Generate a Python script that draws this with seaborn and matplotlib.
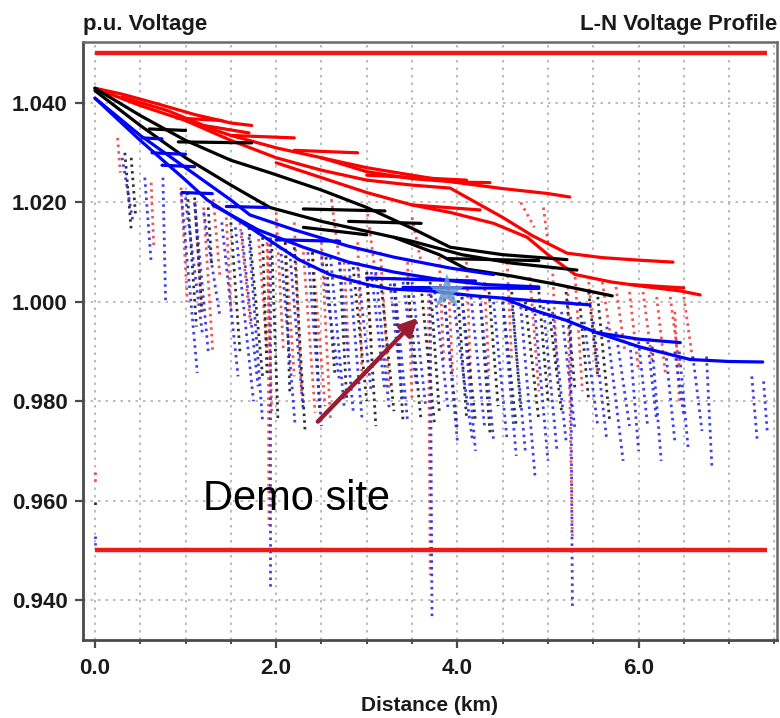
import numpy as np
import pandas as pd
import matplotlib
matplotlib.use('Agg')
import matplotlib.pyplot as plt
from matplotlib.ticker import MultipleLocator, FixedLocator
import seaborn as sns

sns.set_theme(style='white')
plt.rcParams['font.family'] = ['Liberation Sans', 'DejaVu Sans']

# ---------------- data ----------------
limit_km = [0.0, 7.42]
upper_limit = 1.050
lower_limit = 0.950

x_major_ticks = [0.0, 2.0, 4.0, 6.0]
x_tick_labels = ['0.0', '2.0', '4.0', '6.0']
y_ticks = [0.940, 0.960, 0.980, 1.000, 1.020, 1.040]
y_tick_labels = ['0.940', '0.960', '0.980', '1.000', '1.020', '1.040']

# solid (primary) branches: (km list, p.u. list)
red_branches = [
    ([0.0, 0.3, 0.7, 1.1, 1.5, 1.73], [1.043, 1.0418, 1.0398, 1.0377, 1.036, 1.0355]),
    ([0.3, 0.8, 1.2, 1.7], [1.0412, 1.0385, 1.0355, 1.034]),
    ([0.0, 0.5, 1.0, 1.5, 2.0, 2.5, 3.0, 3.5, 4.0, 4.5, 5.0, 5.24],
     [1.043, 1.0395, 1.0365, 1.0335, 1.031, 1.029, 1.027, 1.0255, 1.024, 1.0228, 1.0218, 1.0211]),
    ([2.5, 3.0, 3.5, 4.0, 4.36], [1.029, 1.0262, 1.0248, 1.0241, 1.024]),
    ([1.0, 1.5, 2.0, 2.5, 3.0, 3.5, 3.92, 4.5, 4.83, 5.21, 5.6, 6.0, 6.38],
     [1.0365, 1.0325, 1.029, 1.0265, 1.0245, 1.0235, 1.0229, 1.017, 1.0133, 1.0098, 1.0089, 1.0084, 1.008]),
    ([2.0, 2.5, 3.0, 3.5, 3.92, 4.4, 4.77, 5.0, 5.3, 5.7, 6.1, 6.46, 6.68],
     [1.028, 1.025, 1.022, 1.0195, 1.018, 1.0158, 1.013, 1.0095, 1.0055, 1.004, 1.003, 1.0022, 1.0014]),
    ([0.9, 1.4], [1.037, 1.0365]),
    ([1.5, 2.2], [1.0335, 1.033]),
    ([2.2, 2.9], [1.0305, 1.030]),
    ([3.0, 4.1], [1.0255, 1.0245]),
    ([3.5, 4.25], [1.0195, 1.0185]),
    ([5.9, 6.5], [1.0035, 1.0028]),
]
black_branches = [
    ([0.0, 0.5, 1.0, 1.5, 1.93, 2.5, 3.0, 3.5, 3.92, 4.5, 5.21],
     [1.043, 1.0375, 1.0325, 1.0285, 1.026, 1.0225, 1.019, 1.0148, 1.011, 1.0095, 1.0085]),
    ([0.0, 0.5, 1.0, 1.5, 1.93, 2.5, 3.0, 3.5, 4.05, 4.6, 5.32],
     [1.0425, 1.0355, 1.029, 1.0235, 1.019, 1.0162, 1.0142, 1.0122, 1.0095, 1.0078, 1.0064]),
    ([3.3, 3.8, 4.1, 4.6, 5.1, 5.71], [1.013, 1.0095, 1.0066, 1.0052, 1.0035, 1.0012]),
    ([0.92, 1.73], [1.0322, 1.032]),
    ([0.6, 1.0], [1.0348, 1.0345]),
    ([2.3, 3.2], [1.0187, 1.0183]),
    ([2.3, 3.0], [1.015, 1.0135]),
    ([2.8, 3.6], [1.0162, 1.0158]),
    ([3.9, 4.9], [1.0087, 1.0083]),
]
blue_branches = [
    ([0.0, 0.5, 1.0, 1.24, 1.75, 2.25, 2.59, 3.0, 3.26, 3.7, 4.2, 4.8, 5.46],
     [1.041, 1.0325, 1.0245, 1.0205, 1.0145, 1.0085, 1.0055, 1.0035, 1.0026, 1.0022, 1.0012, 1.0003, 0.9994]),
    ([0.0, 0.5, 1.0, 1.5, 1.71, 2.2, 2.8, 3.3, 3.92, 4.4],
     [1.041, 1.0335, 1.027, 1.0205, 1.0175, 1.0145, 1.0112, 1.009, 1.0068, 1.0055]),
    ([1.3, 1.8, 2.3, 2.8, 3.3, 3.8, 4.3, 4.9],
     [1.0195, 1.0145, 1.011, 1.008, 1.006, 1.0045, 1.0035, 1.003]),
    ([4.5, 4.83, 5.2, 5.54, 6.0, 6.46], [1.0008, 0.9984, 0.9963, 0.9938, 0.9925, 0.9918]),
    ([5.54, 6.0, 6.57, 7.0, 7.37], [0.9938, 0.991, 0.9884, 0.988, 0.9879]),
    ([0.52, 0.74], [1.033, 1.0328]),
    ([0.63, 1.0], [1.030, 1.0297]),
    ([0.74, 1.1], [1.0275, 1.0272]),
    ([0.96, 1.29], [1.022, 1.0218]),
    ([1.45, 1.9], [1.0192, 1.019]),
    ([2.0, 2.7], [1.0125, 1.0122]),
    ([3.0, 4.2], [1.0048, 1.0042]),
    ([3.4, 4.9], [1.0029, 1.0027]),
]

# dotted (secondary) laterals: top point and bottom point
red_lat_km_top = [0.25, 0.62, 0.00, 0.95, 1.10, 1.30, 1.60, 1.80, 1.90, 1.91, 2.10, 2.30, 2.40, 2.60, 2.75,
                  3.00, 3.00, 3.30, 3.50, 3.68, 3.90, 4.30, 4.70, 4.80, 4.95, 5.22, 5.45, 5.75, 5.90,
                  6.05, 6.20, 6.35, 6.50,
                  1.20, 1.45, 2.00, 2.20, 2.50, 2.90, 3.15, 3.45, 3.80, 4.10, 4.55, 5.05, 5.30, 5.60,
                  6.40]
red_lat_pu_top = [1.033, 1.024, 0.9658, 1.023, 1.020, 1.022, 1.016, 1.014, 1.012, 1.013, 1.012, 1.010, 1.010,
                  1.022, 1.008, 1.019, 1.006, 1.005, 1.017, 1.003, 1.004, 1.004, 1.020, 1.005, 1.019, 1.003,
                  1.004, 1.003, 1.002, 1.002, 1.001, 1.001, 1.001,
                  1.019, 1.017, 1.018, 1.016, 1.012, 1.012, 1.010, 1.008, 1.009, 1.008, 1.008, 1.007,
                  1.005, 1.004, 0.998]
red_lat_km_bot = [0.28, 0.65, 0.00, 1.02, 1.18, 1.38, 1.72, 1.90, 1.95, 1.92, 2.20, 2.43, 2.54, 2.70, 2.80,
                  3.10, 3.05, 3.35, 3.60, 3.70, 3.95, 4.35, 4.85, 4.90, 5.00, 5.27, 5.55, 5.85, 6.00,
                  6.15, 6.30, 6.45, 6.60,
                  1.30, 1.50, 2.08, 2.28, 2.60, 2.95, 3.25, 3.50, 3.85, 4.15, 4.60, 5.10, 5.38, 5.70,
                  6.45]
red_lat_pu_bot = [1.026, 1.011, 0.9635, 1.000, 0.998, 1.005, 0.995, 0.990, 0.978, 0.955, 0.985, 0.9777, 0.979,
                  1.008, 0.990, 1.005, 0.992, 0.990, 1.008, 0.945, 0.985, 0.985, 1.015, 0.982, 1.012, 0.952,
                  0.985, 0.990, 0.986, 0.988, 0.985, 0.987, 0.988,
                  0.990, 0.998, 0.990, 0.982, 0.976, 0.984, 0.982, 0.980, 0.988, 0.984, 0.988, 0.986,
                  0.982, 0.992, 0.980]

black_lat_km_top = [0.33, 0.40, 0.00, 1.02, 1.25, 1.70, 1.95, 2.20, 2.55, 2.85, 3.15, 3.45, 3.60, 3.85,
                    4.05, 4.25, 4.50, 4.75, 5.00, 5.35, 5.55,
                    1.10, 1.50, 1.85, 2.10, 2.40, 2.70, 3.00, 3.30, 3.70, 4.00, 4.35, 4.60, 4.90, 5.20,
                    5.45]
black_lat_pu_top = [1.030, 1.029, 0.9598, 1.022, 1.019, 1.015, 1.012, 1.011, 1.009, 1.007, 1.005, 1.004,
                    1.003, 1.002, 1.001, 1.001, 1.000, 1.000, 1.000, 1.000, 1.001,
                    1.021, 1.016, 1.013, 1.012, 1.010, 1.008, 1.006, 1.005, 1.004, 1.003, 1.002, 1.002,
                    1.002, 1.002, 1.002]
black_lat_km_bot = [0.40, 0.45, 0.00, 1.12, 1.29, 1.85, 2.02, 2.32, 2.65, 3.00, 3.30, 3.60, 3.75, 4.00,
                    4.20, 4.36, 4.65, 4.90, 5.15, 5.45, 5.68,
                    1.18, 1.60, 1.90, 2.15, 2.48, 2.78, 3.10, 3.40, 3.80, 4.10, 4.45, 4.70, 5.00, 5.30,
                    5.55]
black_lat_pu_bot = [1.0145, 1.017, 0.9585, 0.995, 1.007, 0.985, 0.976, 0.9737, 0.985, 0.980, 0.978, 0.976,
                    0.975, 0.974, 0.976, 0.9737, 0.975, 0.976, 0.978, 0.980, 0.9763,
                    0.998, 0.990, 0.985, 0.982, 0.978, 0.980, 0.975, 0.976, 0.978, 0.977, 0.979, 0.978,
                    0.980, 0.982, 0.985]

blue_lat_km_top = [0.30, 0.55, 0.75, 0.00, 0.95, 1.00, 1.20, 1.55, 1.62, 1.93, 2.05, 2.50, 2.70, 2.90, 3.05,
                   3.25, 3.40, 3.70, 3.75, 3.95, 4.15, 4.40, 4.60, 4.70, 4.85, 5.05, 5.25, 5.40, 5.65,
                   5.90, 6.00, 6.15, 6.30, 6.45, 6.60, 6.75, 7.25, 7.38,
                   1.10, 1.40, 1.70, 2.15, 2.35, 2.60, 2.80, 3.10, 3.30, 3.50, 3.85, 4.05, 4.25, 4.50,
                   4.95, 5.15, 5.50, 5.75, 6.10, 6.40]
blue_lat_pu_top = [1.029, 1.025, 1.025, 0.9528, 1.022, 1.021, 1.018, 1.015, 1.014, 1.013, 1.011, 1.009, 1.008,
                   1.007, 1.006, 1.005, 1.004, 1.003, 1.002, 1.001, 1.001, 1.000, 1.000, 0.999, 0.999,
                   0.998, 0.997, 0.996, 0.995, 0.993, 0.992, 0.991, 0.990, 0.990, 0.989, 0.989, 0.985, 0.984,
                   1.020, 1.016, 1.013, 1.010, 1.010, 1.009, 1.008, 1.006, 1.005, 1.004, 1.002, 1.001,
                   1.001, 1.000, 0.999, 0.998, 0.996, 0.994, 0.992, 0.990]
blue_lat_km_bot = [0.42, 0.62, 0.78, 0.00, 1.13, 1.19, 1.38, 1.75, 1.80, 1.93, 2.21, 2.70, 2.85, 3.05, 3.20,
                   3.40, 3.55, 3.72, 3.90, 4.17, 4.30, 4.55, 4.75, 4.86, 5.00, 5.20, 5.27, 5.55, 5.83,
                   6.00, 6.10, 6.25, 6.40, 6.55, 6.70, 6.81, 7.31, 7.42,
                   1.25, 1.58, 1.85, 2.30, 2.50, 2.75, 2.95, 3.25, 3.45, 3.65, 4.00, 4.20, 4.40, 4.65,
                   5.10, 5.30, 5.65, 5.90, 6.20, 6.50]
blue_lat_pu_bot = [1.016, 1.008, 1.000, 0.951, 0.9857, 0.993, 0.997, 0.980, 0.983, 0.942, 0.975, 0.984, 0.978,
                   0.9817, 0.982, 0.980, 0.983, 0.936, 0.978, 0.9717, 0.975, 0.972, 0.970, 0.9643, 0.968,
                   0.972, 0.938, 0.975, 0.968, 0.970, 0.975, 0.968, 0.972, 0.970, 0.974, 0.9666, 0.972, 0.974,
                   0.990, 0.985, 0.976, 0.978, 0.975, 0.979, 0.976, 0.978, 0.976, 0.979, 0.972, 0.970,
                   0.972, 0.969, 0.970, 0.974, 0.972, 0.975, 0.976, 0.977]

demo_site_km, demo_site_pu = 3.885, 1.002
arrow_tail = (2.46, 0.9759)
arrow_head = (3.565, 0.9968)

# ---------------- frames ----------------
rows = []
for phase, branches in (('red', red_branches), ('black', black_branches), ('blue', blue_branches)):
    for i, (xs, ys) in enumerate(branches):
        for x, y in zip(xs, ys):
            rows.append((phase, f'{phase}{i}', x, y))
solid_df = pd.DataFrame(rows, columns=['phase', 'branch', 'km', 'pu'])

rows = []
for phase, kt, pt, kb, pb in (
        ('red', red_lat_km_top, red_lat_pu_top, red_lat_km_bot, red_lat_pu_bot),
        ('black', black_lat_km_top, black_lat_pu_top, black_lat_km_bot, black_lat_pu_bot),
        ('blue', blue_lat_km_top, blue_lat_pu_top, blue_lat_km_bot, blue_lat_pu_bot)):
    for i in range(len(kt)):
        rows.append((phase, f'{phase}L{i}', kt[i], pt[i]))
        rows.append((phase, f'{phase}L{i}', kb[i], pb[i]))
lat_df = pd.DataFrame(rows, columns=['phase', 'branch', 'km', 'pu'])

# ---------------- figure ----------------
fig = plt.figure(figsize=(7.8, 7.18), dpi=100)
ax = fig.add_axes([83 / 780, 1 - 640 / 718, (777 - 83) / 780, (640 - 42) / 718])

ax.set_xlim(-0.132, 7.528)
ax.set_ylim(0.93195, 1.0523)

grid_kw = dict(color='#b0b0b0', linestyle=(0, (1.5, 3.0)), linewidth=1.2)
ax.xaxis.set_major_locator(FixedLocator(x_major_ticks))
ax.xaxis.set_minor_locator(MultipleLocator(0.5))
ax.set_xticklabels(x_tick_labels)
ax.set_yticks(y_ticks)
ax.set_yticklabels(y_tick_labels)
ax.grid(True, which='major', axis='both', **grid_kw)
ax.grid(True, which='minor', axis='x', **grid_kw)
ax.set_axisbelow(True)

lat_palette = {'red': '#f04040', 'black': '#1a1a1a', 'blue': '#2a2ae6'}
sns.lineplot(data=lat_df, x='km', y='pu', hue='phase', units='branch', estimator=None,
             sort=False, palette=lat_palette, linewidth=2.0, linestyle=(0, (0.9, 1.5)),
             legend=False, ax=ax, zorder=2, alpha=0.9)

solid_palette = {'red': '#ff0000', 'black': '#000000', 'blue': '#0000ff'}
sns.lineplot(data=solid_df, x='km', y='pu', hue='phase', units='branch', estimator=None,
             sort=False, palette=solid_palette, linewidth=2.3, legend=False, ax=ax, zorder=3)

ax.plot(limit_km, [upper_limit, upper_limit], color='#f01818', linewidth=3.2, zorder=4,
        solid_capstyle='butt')
ax.plot(limit_km, [lower_limit, lower_limit], color='#f01818', linewidth=3.2, zorder=4,
        solid_capstyle='butt')

ax.scatter([demo_site_km], [demo_site_pu], marker='*', s=700, color='#6b9dcc', alpha=0.85,
           edgecolors='none', zorder=5)
ax.annotate('', xy=arrow_head, xytext=arrow_tail,
            arrowprops=dict(arrowstyle='-|>', color='#9b1b30', lw=3.2, mutation_scale=26,
                            shrinkA=0, shrinkB=0), zorder=6)
ax.text(1.19, 0.9581, 'Demo site', fontsize=30, ha='left', va='baseline', color='black', zorder=6)

for side in ['left', 'bottom']:
    ax.spines[side].set_color('#4a4a4a')
    ax.spines[side].set_linewidth(2.0)
for side in ['top', 'right']:
    ax.spines[side].set_color('#6a6a6a')
    ax.spines[side].set_linewidth(1.8)

ax.tick_params(axis='both', which='major', direction='out', length=6, width=1.6, color='#4a4a4a',
               labelsize=16, bottom=True, left=True)
ax.tick_params(axis='x', which='minor', direction='out', length=3, width=1.4, color='#4a4a4a',
               bottom=True)
ax.tick_params(axis='x', which='major', pad=7)
ax.tick_params(axis='y', which='major', pad=5)
for lab in ax.get_xticklabels() + ax.get_yticklabels():
    lab.set_fontweight('bold')
    lab.set_color('#1a1a1a')

ax.set_xlabel('Distance (km)', fontsize=15, fontweight='bold', color='#1a1a1a', labelpad=12)
ax.set_ylabel('')

fig.text(83 / 780, 1 - 30 / 718, 'p.u. Voltage', fontsize=16, fontweight='bold', ha='left',
         va='baseline', color='#1a1a1a')
fig.text(777 / 780, 1 - 30 / 718, 'L-N Voltage Profile', fontsize=16, fontweight='bold', ha='right',
         va='baseline', color='#1a1a1a')

fig.savefig('out.png', dpi=100, facecolor='white')
